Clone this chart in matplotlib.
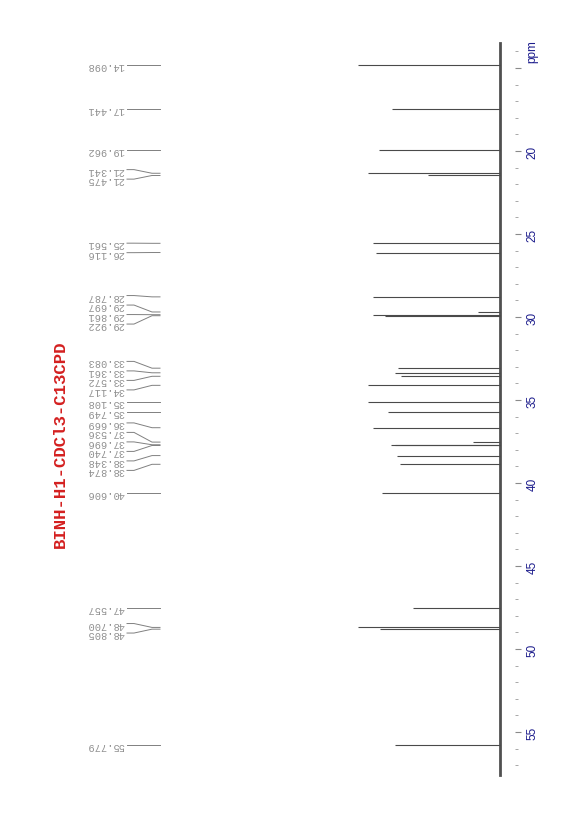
import numpy as np
import matplotlib
matplotlib.use('Agg')
from matplotlib import pyplot as plt
from matplotlib import transforms as mtransforms
from matplotlib.ticker import FixedLocator, FuncFormatter

# peak list (position in ppm, relative height, printed label)
peakPpm = [14.82, 17.441, 19.962, 21.341, 21.475, 25.561, 26.116, 28.787,
           29.697, 29.861, 29.922, 33.083, 33.361, 33.572, 34.117, 35.108,
           35.749, 36.669, 37.536, 37.696, 37.740, 38.348, 38.874, 40.606,
           47.557, 48.700, 48.805, 55.779]
peakHeight = [95, 72, 81, 88, 48, 85, 83, 85,
              15, 85, 77, 68, 70, 66, 88, 88,
              75, 85, 18, 73, 70, 69, 67, 79,
              58, 95, 80, 70]
peakLabels = ['14.098', '17.441', '19.962', '21.341', '21.475', '25.561', '26.116', '28.787',
              '29.697', '29.861', '29.922', '33.083', '33.361', '33.572', '34.117', '35.108',
              '35.749', '36.669', '37.536', '37.696', '37.740', '38.348', '38.874', '40.606',
              '47.557', '48.700', '48.805', '55.779']
majorTicks = [15, 20, 25, 30, 35, 40, 45, 50, 55]
minorTicks = list(range(14, 58))
title = 'BINH-H1-CDCl3-C13CPD'

W, H = 573, 820
pxPerPpm = 16.6
pxPerUnit = 1.5


def ppmAt(py):
    return 30 + (py - 318) / pxPerPpm


def spreadLabels(ppms, gap):
    # push overlapping labels apart, keeping each group centred on its peaks
    groups = [[p] for p in sorted(ppms)]
    changed = True
    while changed:
        changed = False
        for i in range(len(groups) - 1):
            a, b = groups[i], groups[i + 1]
            aEnd = np.mean(a) + (len(a) - 1) / 2 * gap
            bStart = np.mean(b) - (len(b) - 1) / 2 * gap
            if bStart - aEnd < gap:
                groups[i] = a + b
                del groups[i + 1]
                changed = True
                break
    pos = []
    for g in groups:
        c = np.mean(g)
        n = len(g)
        pos += [c + (k - (n - 1) / 2) * gap for k in range(n)]
    return pos


fig = plt.figure(figsize=(W / 100, H / 100), dpi=100)
fig.patch.set_facecolor('white')
ax = fig.add_axes([0, 0, 515 / W, 1])
ax.set_xlim(500 / pxPerUnit, (500 - 515) / pxPerUnit)
ax.set_ylim(ppmAt(H), ppmAt(0))
for s in ax.spines.values():
    s.set_visible(False)
ax.patch.set_alpha(0)

# baseline + peaks
ax.plot([0, 0], [13.5, 57.6], color='#505050', linewidth=2.0, zorder=2)
ax.hlines(peakPpm, 0, peakHeight, color='#4a4a4a', linewidth=0.8, zorder=3)

# ppm axis on the right
ax.yaxis.tick_right()
ax.yaxis.set_major_locator(FixedLocator(majorTicks))
ax.yaxis.set_minor_locator(FixedLocator(minorTicks))
ax.yaxis.set_major_formatter(FuncFormatter(lambda v, p: '' if v == 15 else '%d' % v))
ax.tick_params(axis='y', which='major', length=4.5, width=0.8, color='#8a8a8a', pad=4,
               labelsize=8.5, labelcolor='#1c1c8c', labelrotation=90)
ax.tick_params(axis='y', which='minor', length=2, width=0.6, color='#9a9a9a')
for t in ax.get_yticklabels():
    t.set_fontfamily('Liberation Sans')
    t.set_va('center')
ax.tick_params(axis='x', bottom=False, labelbottom=False)

trans = mtransforms.blended_transform_factory(fig.transFigure, ax.transData)
ax.text(532 / W, 13.92, 'ppm', transform=trans, rotation=90, ha='center', va='center',
        fontsize=8.5, color='#1c1c8c', family='Liberation Sans')

# peak labels (upside down, as on the printout)
labelPos = spreadLabels(peakPpm, 9.5 / pxPerPpm)
order = np.argsort(peakPpm)
x0, x1, x2, x3 = 127 / W, 134 / W, 152 / W, 160 / W
for k, idx in enumerate(order):
    yl = labelPos[k]
    yp = peakPpm[idx]
    ax.plot([x0, x1, x2, x3], [yl, yl, yp, yp], transform=trans, color='#808080',
            linewidth=0.7, clip_on=False)
    ax.text(124 / W, yl, peakLabels[idx], transform=trans, rotation=180,
            rotation_mode='anchor', ha='left', va='center', fontsize=7.5,
            color='#909090', family='Liberation Mono')

fig.text(60 / W, 1 - 444 / H, title, rotation=90, ha='center', va='center',
         fontsize=12.5, fontweight='bold', color='#d42020', family='Liberation Mono')

fig.savefig('out.png', dpi=100)
